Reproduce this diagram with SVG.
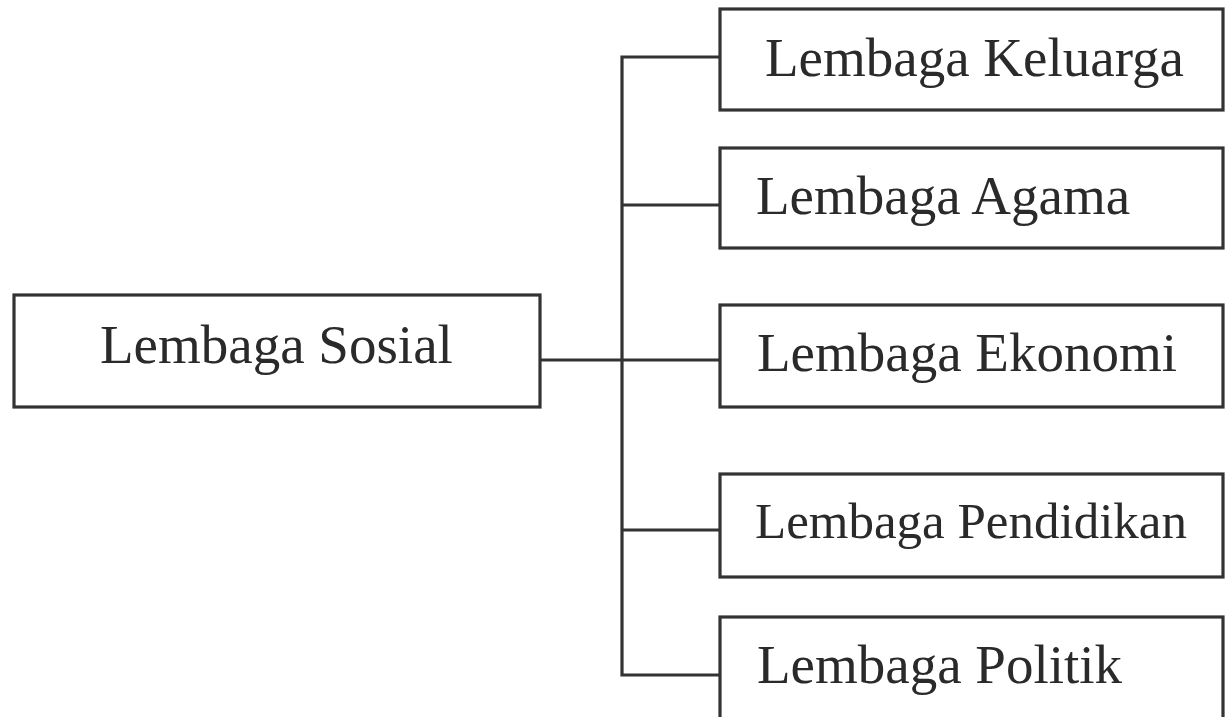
<svg xmlns="http://www.w3.org/2000/svg" width="1229" height="717" viewBox="0 0 1229 717">
<style>
.box{fill:#fff;stroke:#333;stroke-width:3.2}
.lbl{font-family:"Liberation Serif","Times New Roman",serif;font-size:55px;fill:#2a2a2a}
.con{fill:none;stroke:#333;stroke-width:3.2}
</style>
<rect width="1229" height="717" fill="#fff"/>
<g id="connectors">
<line class="con" x1="540" y1="360" x2="720" y2="360"/>
<polyline class="con" points="720,57 622,57 622,675 720,675"/>
<line class="con" x1="622" y1="205" x2="720" y2="205"/>
<line class="con" x1="622" y1="530" x2="720" y2="530"/>
</g>
<g id="n-sosial"><rect class="box" x="14" y="295" width="526" height="112"/><text class="lbl" x="100" y="363">Lembaga Sosial</text></g>
<g id="n-keluarga"><rect class="box" x="720" y="9" width="503" height="101"/><text class="lbl" x="765" y="76">Lembaga Keluarga</text></g>
<g id="n-agama"><rect class="box" x="720" y="148" width="503" height="100"/><text class="lbl" x="756" y="214">Lembaga Agama</text></g>
<g id="n-ekonomi"><rect class="box" x="720" y="305" width="503" height="102"/><text class="lbl" x="757" y="371">Lembaga Ekonomi</text></g>
<g id="n-pendidikan"><rect class="box" x="720" y="474" width="503" height="103"/><text class="lbl" x="755" y="538" style="font-size:51px">Lembaga Pendidikan</text></g>
<g id="n-politik"><rect class="box" x="720" y="617" width="503" height="110"/><text class="lbl" x="757" y="683">Lembaga Politik</text></g>
</svg>
